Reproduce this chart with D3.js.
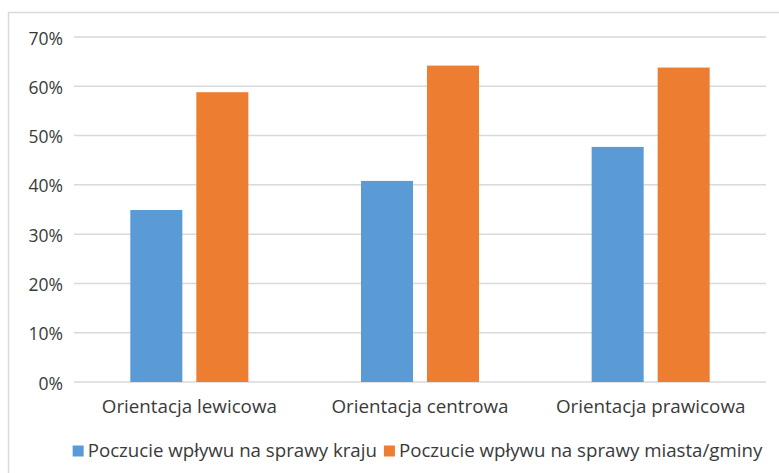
<!DOCTYPE html>
<html>
<head>
<meta charset="utf-8">
<script src="https://cdn.jsdelivr.net/npm/d3@7"></script>
<style>
  body { margin: 0; background: #fff; }
  text { font-family: "Open Sans", "Noto Sans", sans-serif; fill: #3a3a3a; }
</style>
</head>
<body>
<div class="canvas"></div>
<script>
const w = 779;
const h = 473;

// data
const categories = ["Orientacja lewicowa", "Orientacja centrowa", "Orientacja prawicowa"];
const seriesNames = ["Poczucie wpływu na sprawy kraju", "Poczucie wpływu na sprawy miasta/gminy"];
const kraju = [0.349, 0.408, 0.477];
const miasta = [0.588, 0.642, 0.638];
const yTicks = [0, 0.1, 0.2, 0.3, 0.4, 0.5, 0.6, 0.7];
const colors = ["#5b9bd5", "#ed7d31"];

const svg = d3.select(".canvas").append("svg").attr("width", w).attr("height", h);

// chart border (runs off the right and bottom)
svg.append("rect")
  .attr("x", 8.5).attr("y", 12.5)
  .attr("width", 820).attr("height", 520)
  .attr("fill", "none")
  .attr("stroke", "#d9d9d9")
  .attr("stroke-width", 1.5);

const plot = { left: 74, right: 766, top: 37, bottom: 382 };

const x0 = d3.scaleBand().domain(categories).range([plot.left, plot.right]);
const x1 = d3.scaleBand().domain(seriesNames).range([0, x0.bandwidth()])
  .paddingInner(0.212).paddingOuter(0.853);
const y = d3.scaleLinear().domain([0, 0.7]).range([plot.bottom, plot.top]);

// gridlines
svg.append("g")
  .selectAll("line")
  .data(yTicks)
  .enter()
  .append("line")
  .attr("x1", plot.left).attr("x2", plot.right)
  .attr("y1", d => y(d)).attr("y2", d => y(d))
  .attr("stroke", "#d9d9d9")
  .attr("stroke-width", 1.5);

// y axis labels
const yAxis = d3.axisLeft(y).tickValues(yTicks).tickFormat(d3.format(".0%")).tickSize(0).tickPadding(11);
const gy = svg.append("g").attr("transform", `translate(${plot.left}, 0)`).call(yAxis);
gy.attr("font-size", null).attr("font-family", null);
gy.select(".domain").remove();
gy.selectAll("text").attr("font-size", 17.5).style("font-size", "17.5px").attr("dy", "0.4em").attr("fill", "#3a3a3a");

// bars
const series = [kraju, miasta];
const groups = svg.append("g")
  .selectAll("g")
  .data(series)
  .enter()
  .append("g")
  .attr("fill", (d, i) => colors[i]);

groups.each(function (vals, si) {
  d3.select(this)
    .selectAll("rect")
    .data(vals)
    .enter()
    .append("rect")
    .attr("x", (d, i) => x0(categories[i]) + x1(seriesNames[si]))
    .attr("y", d => y(d))
    .attr("width", x1.bandwidth())
    .attr("height", d => y(0) - y(d));
});

// x axis labels
const xAxis = d3.axisBottom(x0).tickSize(0);
const gx = svg.append("g").attr("transform", `translate(0, ${plot.bottom})`).call(xAxis);
gx.attr("font-size", null).attr("font-family", null);
gx.select(".domain").remove();
gx.selectAll("text").style("font-size", "18.8px").attr("y", 31).attr("dy", null).attr("fill", "#3a3a3a");

// legend
const legend = svg.append("g");
const items = legend.selectAll("g")
  .data(seriesNames)
  .enter()
  .append("g");

items.append("rect")
  .attr("width", 11).attr("height", 11)
  .attr("y", -11)
  .attr("fill", (d, i) => colors[i]);

items.append("text")
  .attr("x", 15)
  .attr("y", 0)
  .style("font-size", "18.7px")
  .text(d => d);

const widths = [];
items.each(function () {
  const tw = d3.select(this).select("text").node().getComputedTextLength();
  widths.push(15 + tw);
});
const gap = 7;
const total = d3.sum(widths) + gap * (widths.length - 1);
let lx = 417.5 - total / 2;
items.attr("transform", (d, i) => {
  const t = `translate(${lx}, 456.5)`;
  lx += widths[i] + gap;
  return t;
});
</script>
</body>
</html>
